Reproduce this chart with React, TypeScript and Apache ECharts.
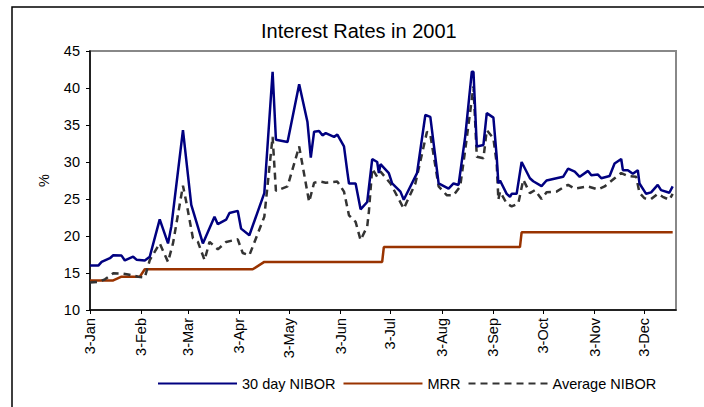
import React, { useEffect, useRef } from "react";
import * as echarts from "echarts";

// ---------- data ----------
const TITLE = "Interest Rates in 2001";
const Y_NAME = "%";
const Y_MIN = 10;
const Y_MAX = 45;
const Y_STEP = 5;
const YEAR = 2001;
const MONTHS = ["Jan", "Feb", "Mar", "Apr", "May", "Jun", "Jul", "Aug", "Sep", "Oct", "Nov", "Dec"];
const AXIS_START: [number, number] = [1, 3]; // month, day
const AXIS_END: [number, number] = [12, 22];
const LABEL_DAY = 3; // tick labels on the 3rd of each month

const SERIES_NAMES = ["30 day NIBOR", "MRR", "Average NIBOR"];

const nibor30: [string, number][] = [
  ["01-03", 16.0], ["01-08", 16.0], ["01-10", 16.5], ["01-15", 17.0], ["01-17", 17.4],
  ["01-22", 17.35], ["01-24", 16.7], ["01-29", 17.2], ["01-31", 16.8], ["02-05", 16.7],
  ["02-08", 17.2], ["02-14", 22.25], ["02-19", 19.0], ["02-21", 21.3], ["02-28", 34.3],
  ["03-05", 24.2], ["03-12", 19.0], ["03-19", 22.6], ["03-21", 21.6], ["03-26", 22.2],
  ["03-28", 23.1], ["04-02", 23.4], ["04-04", 21.0], ["04-09", 20.1], ["04-18", 25.8],
  ["04-23", 42.2], ["04-25", 33.0], ["05-02", 32.7], ["05-09", 40.5], ["05-14", 35.4],
  ["05-16", 30.6], ["05-18", 34.1], ["05-21", 34.2], ["05-23", 33.6], ["05-25", 33.9],
  ["05-30", 33.4], ["06-01", 33.7], ["06-05", 32.1], ["06-07", 28.7], ["06-08", 27.1],
  ["06-12", 27.1], ["06-15", 23.6], ["06-19", 24.6], ["06-22", 30.4], ["06-25", 30.0],
  ["06-26", 28.5], ["06-27", 29.7], ["07-02", 28.5], ["07-04", 27.1], ["07-09", 26.0],
  ["07-11", 24.9], ["07-19", 28.5], ["07-24", 36.35], ["07-27", 36.1], ["08-01", 27.1],
  ["08-07", 26.4], ["08-10", 27.1], ["08-13", 26.9], ["08-17", 33.4], ["08-21", 42.2],
  ["08-22", 42.2], ["08-24", 32.1], ["08-28", 32.3], ["08-30", 36.6], ["09-03", 36.0],
  ["09-05", 30.7], ["09-06", 27.1], ["09-07", 27.5], ["09-11", 25.7], ["09-13", 25.3],
  ["09-14", 25.7], ["09-17", 25.7], ["09-20", 30.0], ["09-25", 27.8], ["09-27", 27.4],
  ["10-02", 26.75], ["10-05", 27.5], ["10-09", 27.7], ["10-15", 28.0], ["10-18", 29.1],
  ["10-22", 28.7], ["10-25", 28.0], ["10-30", 28.8], ["11-01", 28.2], ["11-05", 28.3],
  ["11-07", 27.8], ["11-12", 28.1], ["11-15", 29.8], ["11-19", 30.4], ["11-20", 28.9],
  ["11-23", 28.9], ["11-26", 28.4], ["11-29", 28.9], ["11-30", 27.1], ["12-04", 25.7],
  ["12-07", 25.9], ["12-11", 26.9], ["12-13", 26.2], ["12-18", 25.85], ["12-20", 26.7],
];

const averageNibor: [string, number][] = [
  ["01-03", 13.7], ["01-08", 13.8], ["01-12", 14.15], ["01-17", 14.95], ["01-23", 14.9],
  ["01-26", 14.8], ["02-01", 14.5], ["02-05", 14.4], ["02-08", 16.75], ["02-14", 19.0],
  ["02-19", 16.5], ["02-22", 19.0], ["02-28", 26.8], ["03-02", 24.6], ["03-06", 19.7],
  ["03-09", 19.2], ["03-13", 16.75], ["03-16", 19.2], ["03-21", 18.2], ["03-26", 19.2],
  ["04-02", 19.55], ["04-05", 17.7], ["04-09", 17.4], ["04-18", 22.6], ["04-23", 33.4],
  ["04-25", 26.1], ["05-02", 26.7], ["05-09", 32.1], ["05-15", 24.6], ["05-18", 27.2],
  ["05-22", 27.35], ["05-25", 27.2], ["06-01", 27.35], ["06-05", 26.0], ["06-08", 22.8],
  ["06-12", 21.9], ["06-15", 19.45], ["06-19", 21.3], ["06-20", 23.3], ["06-22", 29.1],
  ["06-25", 28.0], ["06-27", 28.7], ["07-03", 27.1], ["07-11", 23.7], ["07-18", 27.1],
  ["07-25", 34.1], ["07-27", 33.7], ["08-01", 26.7], ["08-06", 25.5], ["08-10", 25.5],
  ["08-14", 26.7], ["08-17", 31.6], ["08-22", 40.2], ["08-24", 30.7], ["08-28", 30.5],
  ["08-30", 34.3], ["09-03", 33.2], ["09-05", 29.8], ["09-06", 24.9], ["09-07", 26.0],
  ["09-11", 24.4], ["09-14", 24.0], ["09-18", 24.4], ["09-21", 27.6], ["09-25", 25.8],
  ["09-28", 26.2], ["10-02", 25.0], ["10-05", 25.9], ["10-11", 26.0], ["10-16", 26.7],
  ["10-18", 26.9], ["10-22", 26.4], ["10-30", 26.7], ["11-05", 26.3], ["11-09", 26.7],
  ["11-15", 27.8], ["11-19", 28.5], ["11-23", 28.1], ["11-28", 28.0], ["11-30", 25.85],
  ["12-03", 25.1], ["12-07", 25.0], ["12-11", 25.7], ["12-14", 25.3], ["12-18", 24.9],
  ["12-20", 25.7],
];

const mrr: [string, number][] = [
  ["01-03", 14.0], ["01-17", 14.0], ["01-22", 14.5], ["02-02", 14.5], ["02-05", 15.5],
  ["04-11", 15.5], ["04-18", 16.5], ["06-28", 16.5], ["06-29", 18.5], ["09-19", 18.5],
  ["09-20", 20.5], ["12-20", 20.5],
];

// ---------- helpers ----------
const DAY_MS = 86400000;
const startMs = Date.UTC(YEAR, AXIS_START[0] - 1, AXIS_START[1]);
const endMs = Date.UTC(YEAR, AXIS_END[0] - 1, AXIS_END[1]);

function buildCategories(): string[] {
  const out: string[] = [];
  for (let t = startMs; t <= endMs; t += DAY_MS) {
    const d = new Date(t);
    out.push(`${d.getUTCDate()}-${MONTHS[d.getUTCMonth()]}`);
  }
  return out;
}

function toPoints(rows: [string, number][]): [number, number][] {
  return rows.map(([md, v]) => {
    const [m, d] = md.split("-").map(Number);
    const idx = Math.round((Date.UTC(YEAR, m - 1, d) - startMs) / DAY_MS);
    return [idx, v];
  });
}

const FONT = "Arial, 'Liberation Sans', sans-serif";

export default function App() {
  const ref = useRef<HTMLDivElement>(null);

  useEffect(() => {
    if (!ref.current) return;
    const chart = echarts.init(ref.current, undefined, { renderer: "svg" });
    const categories = buildCategories();
    const isLabelDay = (_i: number, v: string) => v.startsWith(`${LABEL_DAY}-`);

    chart.setOption({
      animation: false,
      backgroundColor: "#ffffff",
      title: {
        text: TITLE,
        left: 261,
        top: 21,
        padding: 0,
        textStyle: { fontSize: 20, fontWeight: "normal", color: "#000", fontFamily: FONT },
      },
      graphic: [
        {
          type: "polyline",
          shape: { points: [[12, 420], [12, 7], [720, 7]] },
          style: { stroke: "#000", lineWidth: 1.5, fill: null },
          silent: true,
        },
      ],
      legend: {
        data: SERIES_NAMES,
        left: 157,
        top: 376,
        padding: 0,
        itemWidth: 79,
        itemHeight: 14,
        itemGap: 7,
        itemStyle: { color: "transparent", borderColor: "transparent", borderWidth: 0, opacity: 0 },
        textStyle: { fontSize: 14.5, color: "#000", fontFamily: FONT },
      },
      grid: {
        left: 90,
        right: 28,
        top: 51,
        bottom: 97,
        show: true,
        borderColor: "#888888",
        borderWidth: 2,
        backgroundColor: "transparent",
      },
      xAxis: {
        type: "category",
        data: categories,
        boundaryGap: false,
        axisLine: { lineStyle: { color: "#000", width: 1.5 } },
        axisTick: { show: true, interval: isLabelDay, length: 4, lineStyle: { color: "#000", width: 1 } },
        axisLabel: {
          interval: isLabelDay,
          rotate: 90,
          margin: 8,
          fontSize: 14.5,
          color: "#000",
          fontFamily: FONT,
        },
        splitLine: { show: false },
      },
      yAxis: {
        type: "value",
        min: Y_MIN,
        max: Y_MAX,
        interval: Y_STEP,
        name: Y_NAME,
        nameLocation: "middle",
        nameGap: 39,
        nameTextStyle: { fontSize: 14.5, color: "#000", fontFamily: FONT },
        axisLine: { show: true, lineStyle: { color: "#000", width: 1.5 } },
        axisTick: { show: true, length: 4, lineStyle: { color: "#000", width: 1 } },
        axisLabel: { margin: 10, fontSize: 14.5, color: "#000", fontFamily: FONT },
        splitLine: { show: false },
      },
      series: [
        {
          name: SERIES_NAMES[0],
          type: "line",
          data: toPoints(nibor30),
          symbol: "none",
          z: 3,
          lineStyle: { color: "#000080", width: 2.5 },
          itemStyle: { color: "#000080" },
        },
        {
          name: SERIES_NAMES[1],
          type: "line",
          data: toPoints(mrr),
          symbol: "none",
          z: 2,
          lineStyle: { color: "#993300", width: 2.5 },
          itemStyle: { color: "#993300" },
        },
        {
          name: SERIES_NAMES[2],
          type: "line",
          data: toPoints(averageNibor),
          symbol: "none",
          z: 2,
          lineStyle: { color: "#333333", width: 2.5, type: [7, 5] },
          itemStyle: { color: "#333333" },
        },
      ],
    });

    return () => chart.dispose();
  }, []);

  return (
    <div
      ref={ref}
      style={{ position: "fixed", left: 0, top: 0, width: 704, height: 407, background: "#fff" }}
    />
  );
}
